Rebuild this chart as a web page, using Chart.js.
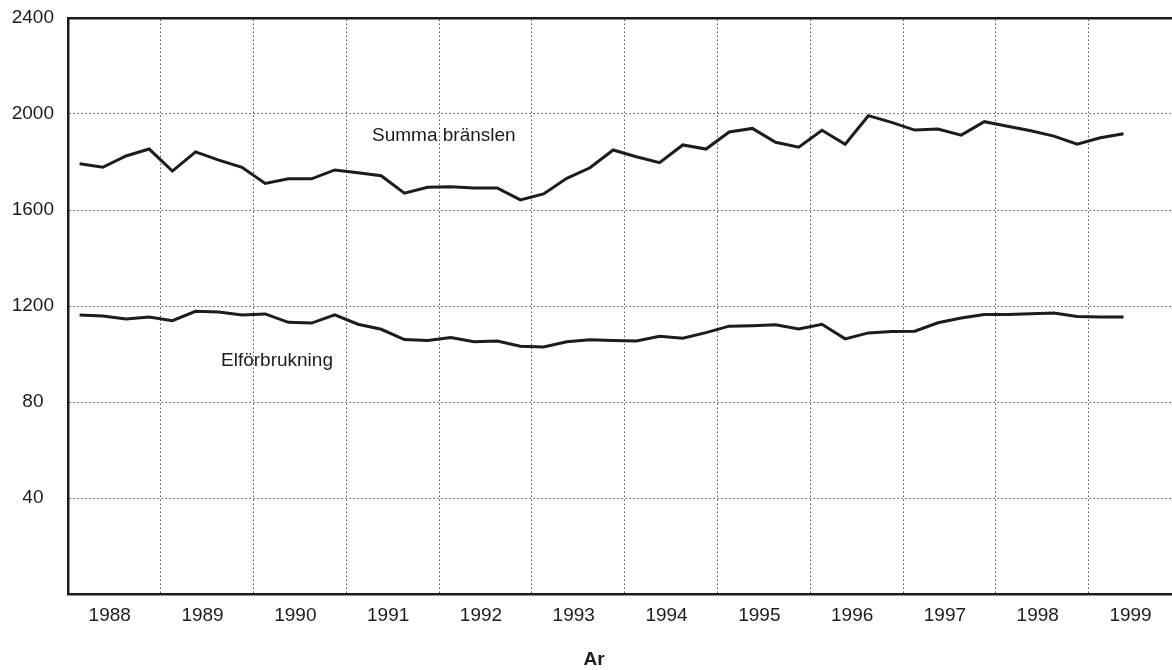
<!DOCTYPE html>
<html>
<head>
<meta charset="utf-8">
<script src="https://cdn.jsdelivr.net/npm/chart.js@4/dist/chart.umd.min.js"></script>
<style>
html,body{margin:0;padding:0;background:#fff;overflow:hidden}
#wrap{width:1172px;height:670px;position:relative}
</style>
</head>
<body>
<div id="wrap"><canvas id="c" width="1172" height="670"></canvas></div>
<script>
// ---- data (quarterly values, 1988 Q1 .. 1999 Q2) ----
const years = ['1988','1989','1990','1991','1992','1993','1994','1995','1996','1997','1998','1999'];
const summaBranslen = [1793,1778,1825,1854,1762,1842,1808,1778,1711,1730,1730,1767,1755,1743,1670,1695,1697,1692,1692,1642,1667,1732,1776,1850,1822,1797,1871,1854,1925,1940,1882,1862,1932,1874,1993,1965,1933,1937,1912,1968,1949,1930,1908,1874,1901,1918];
const elforbrukning = [1163,1158,1146,1154,1139,1178,1175,1163,1167,1132,1129,1163,1124,1103,1060,1056,1069,1051,1054,1032,1029,1051,1059,1056,1054,1074,1066,1089,1116,1118,1122,1104,1124,1063,1088,1094,1095,1130,1150,1165,1165,1168,1171,1156,1154,1154];
const seriesNames = ['Summa bränslen','Elförbrukning'];
const yTickValues = [0,400,800,1200,1600,2000,2400];
const yTickLabels = ['','40  ','80  ','1200','1600','2000','2400'];
const axisTitle = 'Ar';

const FONT = '"Liberation Sans", Arial, sans-serif';
const INK = '#1c1c1c';
const XMAX = 11.897;

function toPoints(arr){ return arr.map((v,i)=>({x: i/4 + 0.125, y: v})); }

const labelPlugin = {
  id: 'seriesLabels',
  afterDatasetsDraw(chart, args, opts){
    const {ctx, scales:{x, y}} = chart;
    ctx.save();
    ctx.fillStyle = INK;
    ctx.textBaseline = 'alphabetic';
    ctx.font = '19px ' + FONT;
    ctx.textAlign = 'left';
    opts.items.forEach(it => {
      ctx.fillText(it.text, x.getPixelForValue(it.x), y.getPixelForValue(it.y));
    });
    ctx.font = 'bold 19px ' + FONT;
    ctx.textAlign = 'center';
    ctx.fillText(opts.title.text, x.getPixelForValue(opts.title.x), opts.title.py);
    ctx.restore();
  }
};

new Chart(document.getElementById('c'), {
  type: 'line',
  data: {
    datasets: [
      { label: seriesNames[0], data: toPoints(summaBranslen), borderColor: INK, borderWidth: 3, pointRadius: 0, tension: 0, fill: false },
      { label: seriesNames[1], data: toPoints(elforbrukning), borderColor: INK, borderWidth: 3, pointRadius: 0, tension: 0, fill: false }
    ]
  },
  options: {
    responsive: false,
    animation: false,
    layout: { padding: { top: 18, left: 0, right: 0, bottom: 0 } },
    plugins: {
      legend: { display: false },
      tooltip: { enabled: false },
      seriesLabels: {
        items: [
          { text: seriesNames[0], x: 3.276, y: 1888 },
          { text: seriesNames[1], x: 1.649, y: 951 }
        ],
        title: { text: axisTitle, x: 5.67, py: 665 }
      }
    },
    scales: {
      x: {
        type: 'linear', position: 'bottom', min: 0, max: XMAX,
        afterBuildTicks: s => { s.ticks = years.map((_, i) => ({ value: i + 0.45 })); },
        afterFit: s => { s.height = 76; s.paddingLeft = 0; s.paddingRight = 0; },
        ticks: { autoSkip: false, maxRotation: 0, padding: 10, color: INK, font: { family: FONT, size: 19 },
                 callback: (v, i) => years[i] },
        grid: { display: false, drawTicks: false },
        border: { display: true, color: INK, width: 2.5 }
      },
      x2: {
        type: 'linear', position: 'top', min: 0, max: XMAX,
        afterBuildTicks: s => { s.ticks = years.slice(1).map((_, i) => ({ value: i + 1 })); },
        afterFit: s => { s.height = 0; s.paddingLeft = 0; s.paddingRight = 0; },
        ticks: { display: false },
        grid: { display: true, drawTicks: false, color: '#555', lineWidth: 1 },
        border: { display: true, color: INK, width: 2.5, dash: [1.5, 2.5] }
      },
      y: {
        type: 'linear', position: 'left', min: 0, max: 2400,
        afterBuildTicks: s => { s.ticks = yTickValues.map(v => ({ value: v })); },
        afterFit: s => { s.width = 68; s.paddingTop = 0; s.paddingBottom = 0; },
        ticks: { padding: 14, color: INK, font: { family: FONT, size: 19 },
                 callback: (v, i) => yTickLabels[yTickValues.indexOf(v)] },
        grid: { display: true, drawTicks: false, color: '#555', lineWidth: 1 },
        border: { display: true, color: INK, width: 2.5, dash: [1.5, 2.5] }
      }
    }
  },
  plugins: [labelPlugin]
});
</script>
</body>
</html>
